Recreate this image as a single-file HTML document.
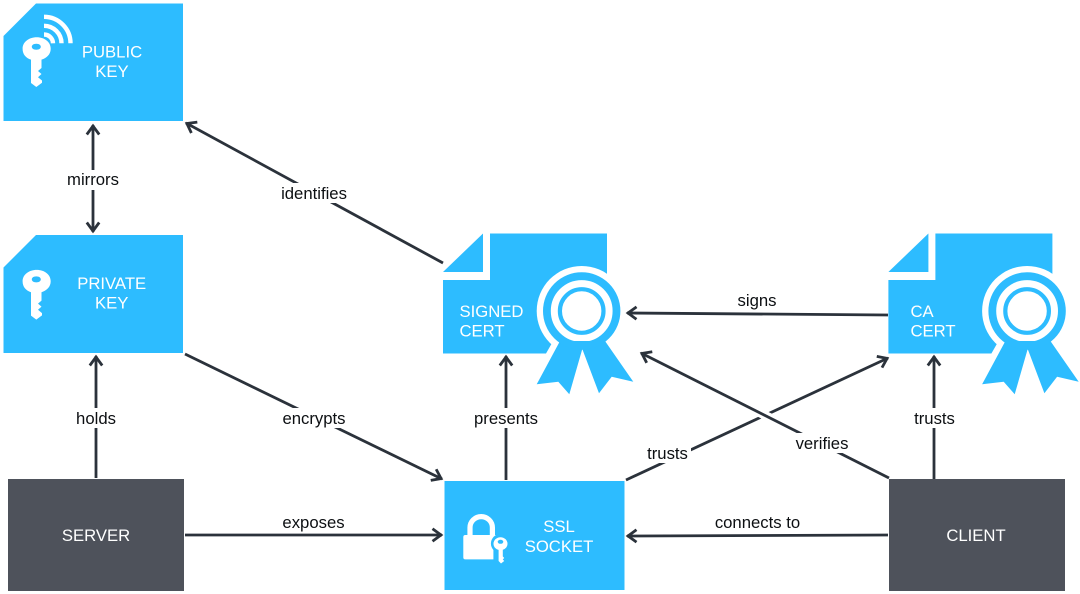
<!DOCTYPE html>
<html>
<head>
<meta charset="utf-8">
<style>
html,body{margin:0;padding:0;background:#fff;width:1080px;height:594px;overflow:hidden}
svg{display:block}
text{font-family:"Liberation Sans",Arial,sans-serif}
.n{fill:#fff;font-size:16.7px}
.l{fill:#0c0f12;font-size:16.7px;text-anchor:middle}
.c{text-anchor:middle}
.e{fill:none;stroke:#2b323b;stroke-width:2.8}
</style>
</head>
<body>
<svg width="1080" height="594" viewBox="0 0 1080 594" xmlns="http://www.w3.org/2000/svg">
<defs>
<marker id="a" markerUnits="userSpaceOnUse" markerWidth="20" markerHeight="20" refX="15" refY="10" orient="auto-start-reverse">
<path d="M5.5,3.8 L14,10 L5.5,16.2" fill="none" stroke="#2b323b" stroke-width="2.8"/>
</marker>
<g id="key">
<path fill-rule="evenodd" fill="#fff" d="M22.6,48.7 C22.6,42 29,37.3 36.7,37.3 C44.5,37.3 50.7,42 50.7,48.7 C50.7,54.5 46.5,58 41.5,59.6 L41.5,68 L38,71 L41.5,74 L38,77.2 L42,80.5 L42,82.8 L36.3,87 L31,83 L31,59.6 C26,58 22.6,54.5 22.6,48.7 Z M36.3,43.8 C33.4,43.8 31.8,45.2 31.8,46.8 C31.8,48.4 33.4,49.8 36.3,49.8 C39.2,49.8 40.8,48.4 40.8,46.8 C40.8,45.2 39.2,43.8 36.3,43.8 Z"/>
</g>
<g id="cert">
<path fill="#2dbcff" d="M443,272 L483,233.5 L483,272 Z"/>
<path fill="#2dbcff" d="M443,280 L490,280 L490,233.5 L607,233.5 L607,290 L552,343 L546,353.5 L443,353.5 Z"/>
<circle cx="581.7" cy="311" r="45" fill="#fff"/>
<path fill="#2dbcff" d="M560,341 L536.7,384.3 L558.3,381.7 L569.3,394.3 L582.3,349 L599,393.3 L611.7,376.7 L633.3,381.7 L605,341 Z"/>
<circle cx="581.7" cy="311" r="34.8" fill="none" stroke="#2dbcff" stroke-width="7.8"/>
<circle cx="581.7" cy="311" r="21.8" fill="none" stroke="#2dbcff" stroke-width="4.2"/>
</g>
</defs>

<!-- Nodes -->
<path fill="#2dbcff" d="M3.5,36 L36,3.5 L183,3.5 L183,121 L3.5,121 Z"/>
<use href="#key"/>
<g fill="none" stroke="#fff" stroke-width="4.4">
<path d="M44,16.8 A26.5,26.5 0 0 1 70.5,43.3"/>
<path d="M44,25.8 A17.5,17.5 0 0 1 61.5,43.3"/>
<path d="M44,34.5 A9,9 0 0 1 53,43.3"/>
</g>
<text class="n c" x="112" y="57.5">PUBLIC</text>
<text class="n c" x="112" y="77">KEY</text>

<path fill="#2dbcff" d="M3.5,267.5 L36,235 L183,235 L183,353 L3.5,353 Z"/>
<use href="#key" y="232.6"/>
<text class="n c" x="111.7" y="289">PRIVATE</text>
<text class="n c" x="111.7" y="308.5">KEY</text>

<use href="#cert"/>
<text class="n" x="459.5" y="317">SIGNED</text>
<text class="n" x="459.5" y="336.5">CERT</text>

<use href="#cert" x="445.4"/>
<text class="n" x="910.5" y="317">CA</text>
<text class="n" x="910.5" y="336.5">CERT</text>

<rect x="444.5" y="481" width="180" height="109" fill="#2dbcff"/>
<path fill="none" stroke="#fff" stroke-width="5.2" d="M470,537 L470,527.6 A11.2,11 0 0 1 492.4,527.6 L492.4,537"/>
<rect x="463.3" y="535" width="36" height="24.4" rx="2" fill="#fff"/>
<circle cx="500.5" cy="543.5" r="9.6" fill="#2dbcff"/>
<rect x="493.4" y="546" width="14" height="16" fill="#2dbcff"/>
<ellipse cx="500.5" cy="543.7" rx="7" ry="6.5" fill="#fff"/>
<ellipse cx="500.5" cy="541.8" rx="2.8" ry="2" fill="#2dbcff"/>
<path fill="#fff" d="M498.6,548 L498.6,561 L501,563.5 L504.2,561 L502.8,559.4 L504.2,558 L502.8,556.4 L502.8,548 Z"/>
<text class="n c" x="559" y="532">SSL</text>
<text class="n c" x="559" y="552">SOCKET</text>

<rect x="8" y="479" width="176" height="112" fill="#4e525b"/>
<text class="n c" x="96" y="541">SERVER</text>
<rect x="889" y="479" width="176" height="112" fill="#4e525b"/>
<text class="n c" x="976" y="541">CLIENT</text>

<!-- Edges -->
<path class="e" d="M93,125 L93,232" marker-start="url(#a)" marker-end="url(#a)"/>
<path class="e" d="M443,263 L186,123" marker-end="url(#a)"/>
<path class="e" d="M888,315 L627,313" marker-end="url(#a)"/>
<path class="e" d="M185,354 L442,479" marker-end="url(#a)"/>
<path class="e" d="M96,478 L96,356" marker-end="url(#a)"/>
<path class="e" d="M506,480 L506,356" marker-end="url(#a)"/>
<path class="e" d="M626,480 L888,358" marker-end="url(#a)"/>
<path d="M745,405 L780,423" fill="none" stroke="#fff" stroke-width="9"/>
<path class="e" d="M889,478 L641,353" marker-end="url(#a)"/>
<path class="e" d="M934,479 L934,356" marker-end="url(#a)"/>
<path class="e" d="M185,535 L442,535" marker-end="url(#a)"/>
<path class="e" d="M888,535 L627,536" marker-end="url(#a)"/>

<!-- Labels -->
<rect x="64" y="170" width="60" height="20" fill="#fff"/>
<text class="l" x="93" y="185">mirrors</text>
<rect x="279" y="183" width="70" height="20" fill="#fff"/>
<text class="l" x="314" y="199">identifies</text>
<text class="l" x="757" y="306">signs</text>
<rect x="280" y="408" width="68" height="20" fill="#fff"/>
<text class="l" x="314" y="424">encrypts</text>
<rect x="73" y="408" width="46" height="20" fill="#fff"/>
<text class="l" x="96" y="424">holds</text>
<rect x="472" y="408" width="68" height="20" fill="#fff"/>
<text class="l" x="506" y="424">presents</text>
<rect x="645" y="443" width="46" height="20" fill="#fff"/>
<text class="l" x="667.5" y="459">trusts</text>
<rect x="793" y="433" width="58" height="20" fill="#fff"/>
<text class="l" x="822" y="449">verifies</text>
<rect x="912" y="408" width="45" height="20" fill="#fff"/>
<text class="l" x="934.5" y="424">trusts</text>
<text class="l" x="313.5" y="528">exposes</text>
<text class="l" x="757.5" y="528">connects to</text>
</svg>
</body>
</html>
